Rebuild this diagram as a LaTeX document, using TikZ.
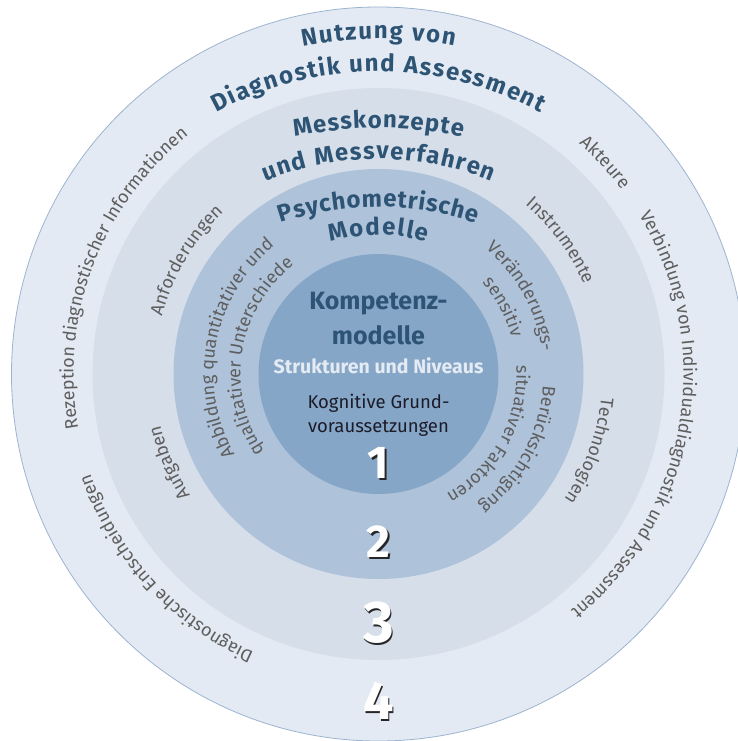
\documentclass[tikz,border=0pt]{standalone}
\usepackage{fontspec}
\setmainfont{Fira Sans}
\usepackage{xcolor}
\usetikzlibrary{decorations.text}

\definecolor{ringvier}{HTML}{E4EAF3}
\definecolor{ringdrei}{HTML}{D6DEEA}
\definecolor{ringzwei}{HTML}{AEC2DA}
\definecolor{ringeins}{HTML}{86A6C8}
\definecolor{randblau}{HTML}{9CB4D1}
\definecolor{titelblau}{HTML}{2D5474}
\definecolor{textgrau}{HTML}{5E5E5E}
\definecolor{hellblau}{HTML}{E4EBF3}
\definecolor{fastschwarz}{HTML}{1C1C28}

\newcommand{\titelfmt}{\fontsize{24pt}{28pt}\selectfont\bfseries\color{titelblau}}
\newcommand{\grauefmt}{\fontsize{18pt}{21pt}\selectfont\color{textgrau}}
% #1 align, #2 format, #3 centre y, #4 radius, #5 start angle, #6 end angle, #7 text
\newcommand{\bogen}[7][center]{%
  \path[decorate, decoration={text along path, text align=#1, text={|#2|#7}}]
    (0pt,#3) ++(#5:#4) arc[start angle=#5, end angle=#6, radius=#4];}
% white digit with a dark drop shadow
\newcommand{\schattenzahl}[1]{\rlap{\kern1.6pt\raisebox{-1.6pt}{\textcolor{black!85}{#1}}}#1}

\begin{document}
\begin{tikzpicture}[
    kern/.style={inner sep=0pt, anchor=base, text=titelblau, font=\fontsize{25pt}{28pt}\selectfont\bfseries},
    niveau/.style={inner sep=0pt, anchor=base, text=hellblau, font=\fontsize{19.5pt}{23pt}\selectfont\bfseries},
    grund/.style={inner sep=0pt, anchor=base, text=fastschwarz, font=\fontsize{18.5pt}{22pt}\selectfont},
    zahl/.style={inner sep=0pt, text=white},
]
    \fill[white] (-378.5pt,-367pt) rectangle (358.5pt,374pt);
    \useasboundingbox (-378.5pt,-367pt) rectangle (358.5pt,374pt);

    % rings
    \fill[ringvier, draw=randblau, line width=0.8pt] (0,0) circle[radius=367pt];
    \fill[ringdrei] (0,0) circle[radius=286pt];
    \fill[ringzwei] (0,0) circle[radius=205pt];
    \fill[ringeins] (0,0) circle[radius=120pt];

    % ring titles
    \bogen[fit to path]{\titelfmt}{-65pt}{400pt}{100.95}{79.05}{Nutzung von}
    \bogen[fit to path]{\titelfmt}{-37.7pt}{340pt}{118.45}{61.55}{Diagnostik und Assessment}
    \bogen[fit to path]{\titelfmt}{-154pt}{400pt}{102.12}{77.88}{Messkonzepte}
    \bogen[fit to path]{\titelfmt}{-86pt}{301pt}{112.11}{67.89}{und Messverfahren}
    \bogen[fit to path]{\titelfmt}{-138pt}{305pt}{108.65}{71.35}{Psychometrische}
    \bogen[fit to path]{\titelfmt}{-29pt}{168pt}{106.71}{73.29}{Modelle}

    % ring 4 labels
    \bogen{\grauefmt}{0pt}{305pt}{229.4}{89.4}{Rezeption diagnostischer Informationen}
    \bogen{\grauefmt}{0pt}{305pt}{292.5}{152.5}{Diagnostische Entscheidungen}
    \bogen{\grauefmt}{0pt}{305pt}{113}{-27}{Akteure}
    \bogen{\grauefmt}{0pt}{305pt}{60.2}{-79.8}{Verbindung von Individualdiagnostik und Assessment}

    % ring 3 labels
    \bogen{\grauefmt}{0pt}{224pt}{219.4}{79.4}{Anforderungen}
    \bogen{\grauefmt}{0pt}{224pt}{273}{133}{Aufgaben}
    \bogen{\grauefmt}{0pt}{224pt}{106.3}{-33.7}{Instrumente}
    \bogen{\grauefmt}{0pt}{224pt}{50}{-90}{Technologien}

    % ring 2 labels
    \bogen{\grauefmt}{0pt}{165pt}{239.2}{99.2}{Abbildung quantitativer und}
    \bogen{\grauefmt}{0pt}{138pt}{240.9}{100.9}{qualitativer Unterschiede}
    \bogen{\grauefmt}{0pt}{165pt}{98.6}{-41.4}{Veränderungs-}
    \bogen{\grauefmt}{0pt}{138pt}{98.3}{-41.7}{sensitiv}
    \bogen{\grauefmt}{0pt}{165pt}{41.7}{-98.3}{Berücksichtigung}
    \bogen{\grauefmt}{0pt}{138pt}{41.4}{-98.6}{situativer Faktoren}

    % centre
    \node[kern] (kompetenz) at (0pt,64pt) {Kompetenz-};
    \node[kern] (modelle) at (0pt,29pt) {modelle};
    \node[niveau] (niveaus) at (0pt,0.7pt) {Strukturen und Niveaus};
    \node[grund] (grund) at (0pt,-34.3pt) {Kognitive Grund-};
    \node[grund] (voraus) at (0pt,-58.3pt) {voraussetzungen};

    % ring numbers
    \foreach \n/\y/\s in {1/-90pt/46pt, 2/-168.5pt/46pt, 3/-249.7pt/59pt, 4/-327.7pt/54pt} {
        \node[zahl, font=\fontsize{\s}{\s}\selectfont\bfseries] (z\n) at (0pt,\y) {\schattenzahl{\n}};
    }
\end{tikzpicture}
\end{document}
